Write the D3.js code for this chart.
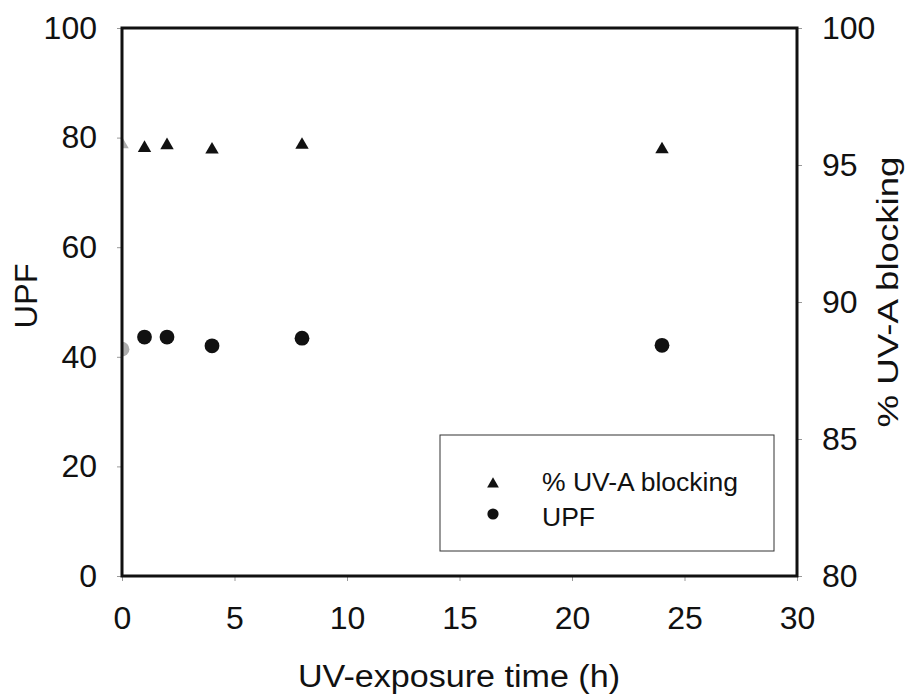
<!DOCTYPE html>
<html><head><meta charset="utf-8">
<script src="https://cdn.jsdelivr.net/npm/d3@7"></script>
<style>body{margin:0;background:#fff}svg{display:block}text{font-family:"Liberation Sans",Arial,sans-serif;fill:#111}</style>
</head><body>
<svg id="c" width="907" height="699"></svg>
<script>
const times = [0, 1, 2, 4, 8, 24];
const upf = [41.4, 43.6, 43.6, 42.0, 43.4, 42.1];
const uvaBlocking = [95.75, 95.62, 95.72, 95.56, 95.73, 95.57];
const xTicks = [0, 5, 10, 15, 20, 25, 30];
const yLeftTicks = [0, 20, 40, 60, 80, 100];
const yRightTicks = [80, 85, 90, 95, 100];
const legendLabels = ["% UV-A blocking", "UPF"];

const svg = d3.select("#c");
const L = 122, R = 797, T = 28, B = 576;
const x = d3.scaleLinear().domain([0, 30]).range([L, R]);
const yL = d3.scaleLinear().domain([0, 100]).range([B, T]);
const yR = d3.scaleLinear().domain([80, 100]).range([B, T]);

svg.append("defs").append("clipPath").attr("id","clip")
  .append("rect").attr("x", L).attr("y", T).attr("width", R-L).attr("height", B-T);

function styleAxis(g){
  g.select(".domain").remove();
  g.selectAll(".tick line").attr("stroke","#999").attr("stroke-width",1);
  g.selectAll(".tick text").style("font-size","32px").attr("fill","#111");
}

svg.append("g").attr("transform",`translate(0,${B})`)
  .call(d3.axisBottom(x).tickValues(xTicks).tickSize(5).tickPadding(25).tickFormat(d3.format("d")))
  .call(styleAxis);
svg.append("g").attr("transform",`translate(${L},0)`)
  .call(d3.axisLeft(yL).tickValues(yLeftTicks).tickSize(5).tickPadding(20).tickFormat(d3.format("d")))
  .call(styleAxis);
svg.append("g").attr("transform",`translate(${R},0)`)
  .call(d3.axisRight(yR).tickValues(yRightTicks).tickSize(5).tickPadding(20).tickFormat(d3.format("d")))
  .call(styleAxis);

// data
const pts = times.map((t,i)=>({t, upf: upf[i], uva: uvaBlocking[i]}));
const plot = svg.append("g").attr("clip-path","url(#clip)");
const tri = d3.symbol().type(d3.symbolTriangle).size(78);
plot.selectAll("path.tri").data(pts).join("path").attr("class","tri")
  .attr("d", tri).attr("transform", d=>`translate(${x(d.t)},${yR(d.uva)})`)
  .attr("fill","#111").attr("opacity", d=> d.t===0 ? 0.35 : 1);
plot.selectAll("circle.upf").data(pts).join("circle").attr("class","upf")
  .attr("cx", d=>x(d.t)).attr("cy", d=>yL(d.upf)).attr("r", 7.4)
  .attr("fill","#111").attr("opacity", d=> d.t===0 ? 0.35 : 1);

// frame
svg.append("rect").attr("x",L).attr("y",T).attr("width",R-L).attr("height",B-T)
  .attr("fill","none").attr("stroke","#111").attr("stroke-width",3);

// legend
const lg = svg.append("g");
lg.append("rect").attr("x",440).attr("y",435).attr("width",334).attr("height",116)
  .attr("fill","#fff").attr("stroke","#333").attr("stroke-width",1);
lg.append("path").attr("d", d3.symbol().type(d3.symbolTriangle).size(60)())
  .attr("transform","translate(493,484)").attr("fill","#111");
lg.append("circle").attr("cx",493).attr("cy",514).attr("r",5.6).attr("fill","#111");
lg.selectAll("text.lg").data(legendLabels).join("text").attr("class","lg")
  .attr("x",542).attr("y",(d,i)=>491+i*35).style("font-size","26.5px").text(d=>d);

// axis titles
svg.append("text").attr("x",459).attr("y",687).attr("text-anchor","middle")
  .attr("textLength",322).attr("lengthAdjust","spacingAndGlyphs")
  .style("font-size","31px").text("UV-exposure time (h)");
svg.append("text").attr("transform","translate(37,296) rotate(-90)").attr("text-anchor","middle")
  .attr("textLength",65).attr("lengthAdjust","spacingAndGlyphs")
  .style("font-size","31px").text("UPF");
svg.append("text").attr("transform","translate(898,292) rotate(-90)").attr("text-anchor","middle")
  .attr("textLength",271).attr("lengthAdjust","spacingAndGlyphs")
  .style("font-size","30px").text("% UV-A blocking");
</script>
</body></html>
